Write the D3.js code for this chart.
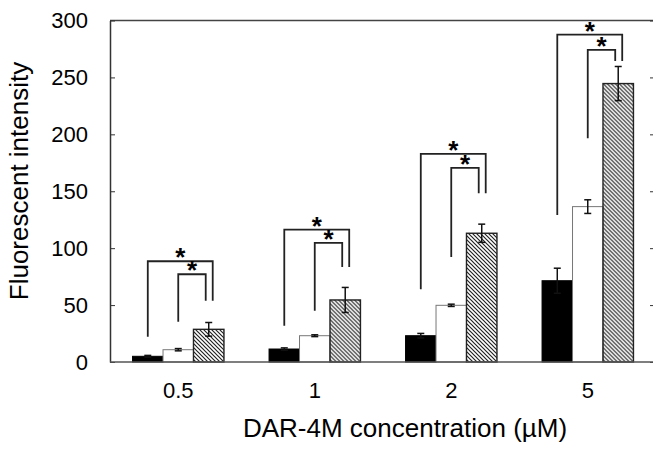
<!DOCTYPE html>
<html>
<head>
<meta charset="utf-8">
<script src="https://cdn.jsdelivr.net/npm/d3@7"></script>
<style>
  body { margin: 0; background: #fff; }
  svg { display: block; }
</style>
</head>
<body>
<div id="chart"></div>
<script>
// data
var categories = ["0.5", "1", "2", "5"];
var seriesKeys = ["s1", "s2", "s3"];

var s1Values = [5, 11.4, 23.1, 71.4];
var s2Values = [10.8, 23.1, 49.8, 136.5];
var s3Values = [28.7, 54.5, 113.1, 244.6];

var s1Errors = [0.8, 1, 2, 11];
var s2Errors = [1, 0.8, 1, 6];
var s3Errors = [6, 11, 8, 15];

var yTicks = [0, 50, 100, 150, 200, 250, 300];

// significance brackets (y values of the bracket ends)
var outerTop = [88.5, 116.3, 182.8, 287.6];
var outerLeftEnd = [22.2, 31.9, 63.9, 129.2];
var innerTop = [77.1, 104.6, 170.5, 274.2];
var innerLeftEnd = [35.4, 45.1, 92.3, 196.6];
var rightEnd = [53.9, 83.5, 148.2, 264.5];

var width = 653, height = 449;
var font = "'Liberation Sans', Arial, sans-serif";

var svg = d3.select("#chart").append("svg")
    .attr("width", width)
    .attr("height", height);

// hatch pattern for the third series
var defs = svg.append("defs");
defs.append("pattern")
    .attr("id", "hatch")
    .attr("patternUnits", "userSpaceOnUse")
    .attr("width", 4)
    .attr("height", 4)
  .append("path")
    .attr("d", "M0,0 L4,4 M-1,3 L1,5 M3,-1 L5,1")
    .attr("stroke", "#222")
    .attr("stroke-width", 1.2);

var x = d3.scaleBand().domain(categories).range([110, 656]);
var xs = d3.scaleBand().domain(seriesKeys).range([0, x.bandwidth()])
    .paddingInner(0).paddingOuter(0.74);
var y = d3.scaleLinear().domain([0, 300]).range([362, 20.5]);

var bw = xs.bandwidth();

// frame: top line
svg.append("line")
    .attr("x1", 110).attr("x2", 656)
    .attr("y1", y(300)).attr("y2", y(300))
    .attr("stroke", "#444").attr("stroke-width", 1.5);

// left axis, ticks inside
var yAxis = svg.append("g")
    .attr("transform", "translate(110,0)")
    .call(d3.axisLeft(y).tickValues(yTicks).tickSizeInner(-5).tickSizeOuter(0).tickPadding(22));
yAxis.select(".domain").attr("stroke", "#333").attr("stroke-width", 1.5);
yAxis.selectAll(".tick line").attr("stroke", "#333");
yAxis.selectAll("text").attr("font-size", 22).attr("font-family", font).attr("fill", "#000");

// right axis, ticks only
var yAxisR = svg.append("g")
    .attr("transform", "translate(656,0)")
    .call(d3.axisRight(y).tickValues(yTicks).tickSizeInner(-6).tickSizeOuter(0).tickFormat(""));
yAxisR.selectAll(".tick line").attr("stroke", "#333");
yAxisR.select(".domain").attr("stroke", "#333");

// bars
var rows = categories.map(function(c, i) {
  return {
    cat: c,
    vals: [
      {key: "s1", v: s1Values[i], e: s1Errors[i]},
      {key: "s2", v: s2Values[i], e: s2Errors[i]},
      {key: "s3", v: s3Values[i], e: s3Errors[i]}
    ]
  };
});

var groups = svg.selectAll("g.grp").data(rows).enter().append("g")
    .attr("class", "grp")
    .attr("transform", function(d) { return "translate(" + x(d.cat) + ",0)"; });

groups.selectAll("rect").data(function(d) { return d.vals; }).enter().append("rect")
    .attr("x", function(d) { return xs(d.key); })
    .attr("y", function(d) { return y(d.v); })
    .attr("width", bw)
    .attr("height", function(d) { return y(0) - y(d.v); })
    .attr("fill", function(d) { return d.key === "s1" ? "#000" : d.key === "s2" ? "#fff" : "url(#hatch)"; })
    .attr("stroke", function(d) { return d.key === "s1" ? "#000" : d.key === "s2" ? "#777" : "#222"; })
    .attr("stroke-width", function(d) { return d.key === "s3" ? 1.4 : 1; });

// error bars
var eb = groups.selectAll("g.err").data(function(d) { return d.vals; }).enter().append("g")
    .attr("class", "err")
    .attr("stroke", "#111")
    .attr("stroke-width", 1.5);
eb.append("line")
    .attr("x1", function(d) { return xs(d.key) + bw / 2; })
    .attr("x2", function(d) { return xs(d.key) + bw / 2; })
    .attr("y1", function(d) { return y(d.v - d.e); })
    .attr("y2", function(d) { return y(d.v + d.e); });
eb.append("line")
    .attr("x1", function(d) { return xs(d.key) + bw / 2 - 3.5; })
    .attr("x2", function(d) { return xs(d.key) + bw / 2 + 3.5; })
    .attr("y1", function(d) { return y(d.v + d.e); })
    .attr("y2", function(d) { return y(d.v + d.e); });
eb.append("line")
    .attr("x1", function(d) { return xs(d.key) + bw / 2 - 3.5; })
    .attr("x2", function(d) { return xs(d.key) + bw / 2 + 3.5; })
    .attr("y1", function(d) { return y(d.v - d.e); })
    .attr("y2", function(d) { return y(d.v - d.e); });

// bottom axis
var xAxis = svg.append("g")
    .attr("transform", "translate(0,362)")
    .call(d3.axisBottom(x).tickSize(0).tickPadding(20));
xAxis.select(".domain").attr("stroke", "#555").attr("stroke-width", 1.5)
    .attr("d", "M110,0H656");
xAxis.selectAll("text").attr("font-size", 22).attr("font-family", font).attr("fill", "#000");

// significance brackets
categories.forEach(function(c, i) {
  var cx1 = x(c) + xs("s1") + bw / 2;
  var cx2 = x(c) + xs("s2") + bw / 2;
  var cx3 = x(c) + xs("s3") + bw / 2;
  var oR = cx3 + 4, iR = cx3 - 3;

  svg.append("path")
      .attr("d", "M" + cx1 + "," + y(outerLeftEnd[i]) + "V" + y(outerTop[i]) + "H" + oR + "V" + y(rightEnd[i]))
      .attr("fill", "none").attr("stroke", "#222").attr("stroke-width", 1.8);
  svg.append("path")
      .attr("d", "M" + cx2 + "," + y(innerLeftEnd[i]) + "V" + y(innerTop[i]) + "H" + iR + "V" + y(rightEnd[i]))
      .attr("fill", "none").attr("stroke", "#222").attr("stroke-width", 1.8);

  svg.append("text")
      .attr("x", (cx1 + oR) / 2)
      .attr("y", y(outerTop[i]) + 5)
      .attr("text-anchor", "middle")
      .attr("font-family", font)
      .attr("font-weight", "bold")
      .attr("font-size", 26)
      .text("*");
  svg.append("text")
      .attr("x", (cx2 + iR) / 2)
      .attr("y", y(innerTop[i]) + 5)
      .attr("text-anchor", "middle")
      .attr("font-family", font)
      .attr("font-weight", "bold")
      .attr("font-size", 26)
      .text("*");
});

// axis titles
svg.append("text")
    .attr("transform", "translate(28,181) rotate(-90)")
    .attr("text-anchor", "middle")
    .attr("font-family", font)
    .attr("font-size", 26)
    .text("Fluorescent intensity");

svg.append("text")
    .attr("x", 405)
    .attr("y", 437)
    .attr("text-anchor", "middle")
    .attr("font-family", font)
    .attr("font-size", 26)
    .text("DAR-4M concentration (µM)");
</script>
</body>
</html>
